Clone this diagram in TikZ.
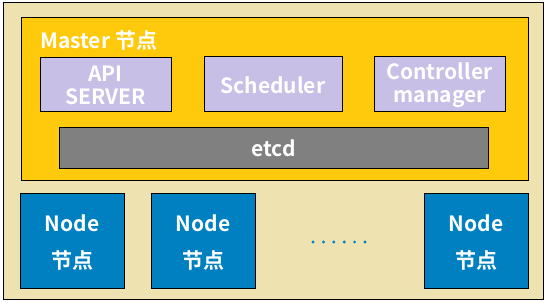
\documentclass[tikz,border=0pt]{standalone}
\usepackage{fontspec}
\setmainfont{Noto Sans CJK SC}[BoldFont={* Bold}]
\definecolor{tanbg}{HTML}{EEE2B0}
\definecolor{gold}{HTML}{FFC90C}
\definecolor{lav}{HTML}{C8BFE6}
\definecolor{grayc}{HTML}{808080}
\definecolor{blu}{HTML}{0080C0}
\begin{document}
\begin{tikzpicture}[x=1pt,y=-1pt,
  box/.style={draw=black,line width=1pt},
  lbl/.style={text=white,font=\fontsize{21}{23}\selectfont\bfseries,align=center,inner sep=0pt}]
\useasboundingbox (0,0) rectangle (549,304);
\draw[box,fill=tanbg] (3,3) rectangle (543,300);
\draw[box,fill=gold] (21,18) rectangle (528,181);
\node[lbl,anchor=west] (master) at (40,40) {Master 节点};
\draw[box,fill=lav] (40,58) rectangle (171,112);
\node[lbl] (api) at (105.5,85) {API\\SERVER};
\draw[box,fill=lav] (204,57) rectangle (342,112);
\node[lbl] (sched) at (273,85) {Scheduler};
\draw[box,fill=lav] (374,57) rectangle (505,112);
\node[lbl] (ctrl) at (439.5,85) {Controller\\manager};
\draw[box,fill=grayc] (59,128) rectangle (488,169);
\node[lbl] (etcd) at (273.5,148.5) {etcd};
\foreach \x/\n in {20/n1,151/n2,424/n3}{
  \draw[box,fill=blu] (\x,194) rectangle ++(104,95);
  \node[lbl] (\n a) at (\x+52,223) {Node};
  \node[lbl] (\n b) at (\x+52,260) {节点};
}
\foreach \i in {0,...,5}
  \fill[blu] (313+\i*10.4,242) circle (1.6pt);
\end{tikzpicture}
\end{document}
